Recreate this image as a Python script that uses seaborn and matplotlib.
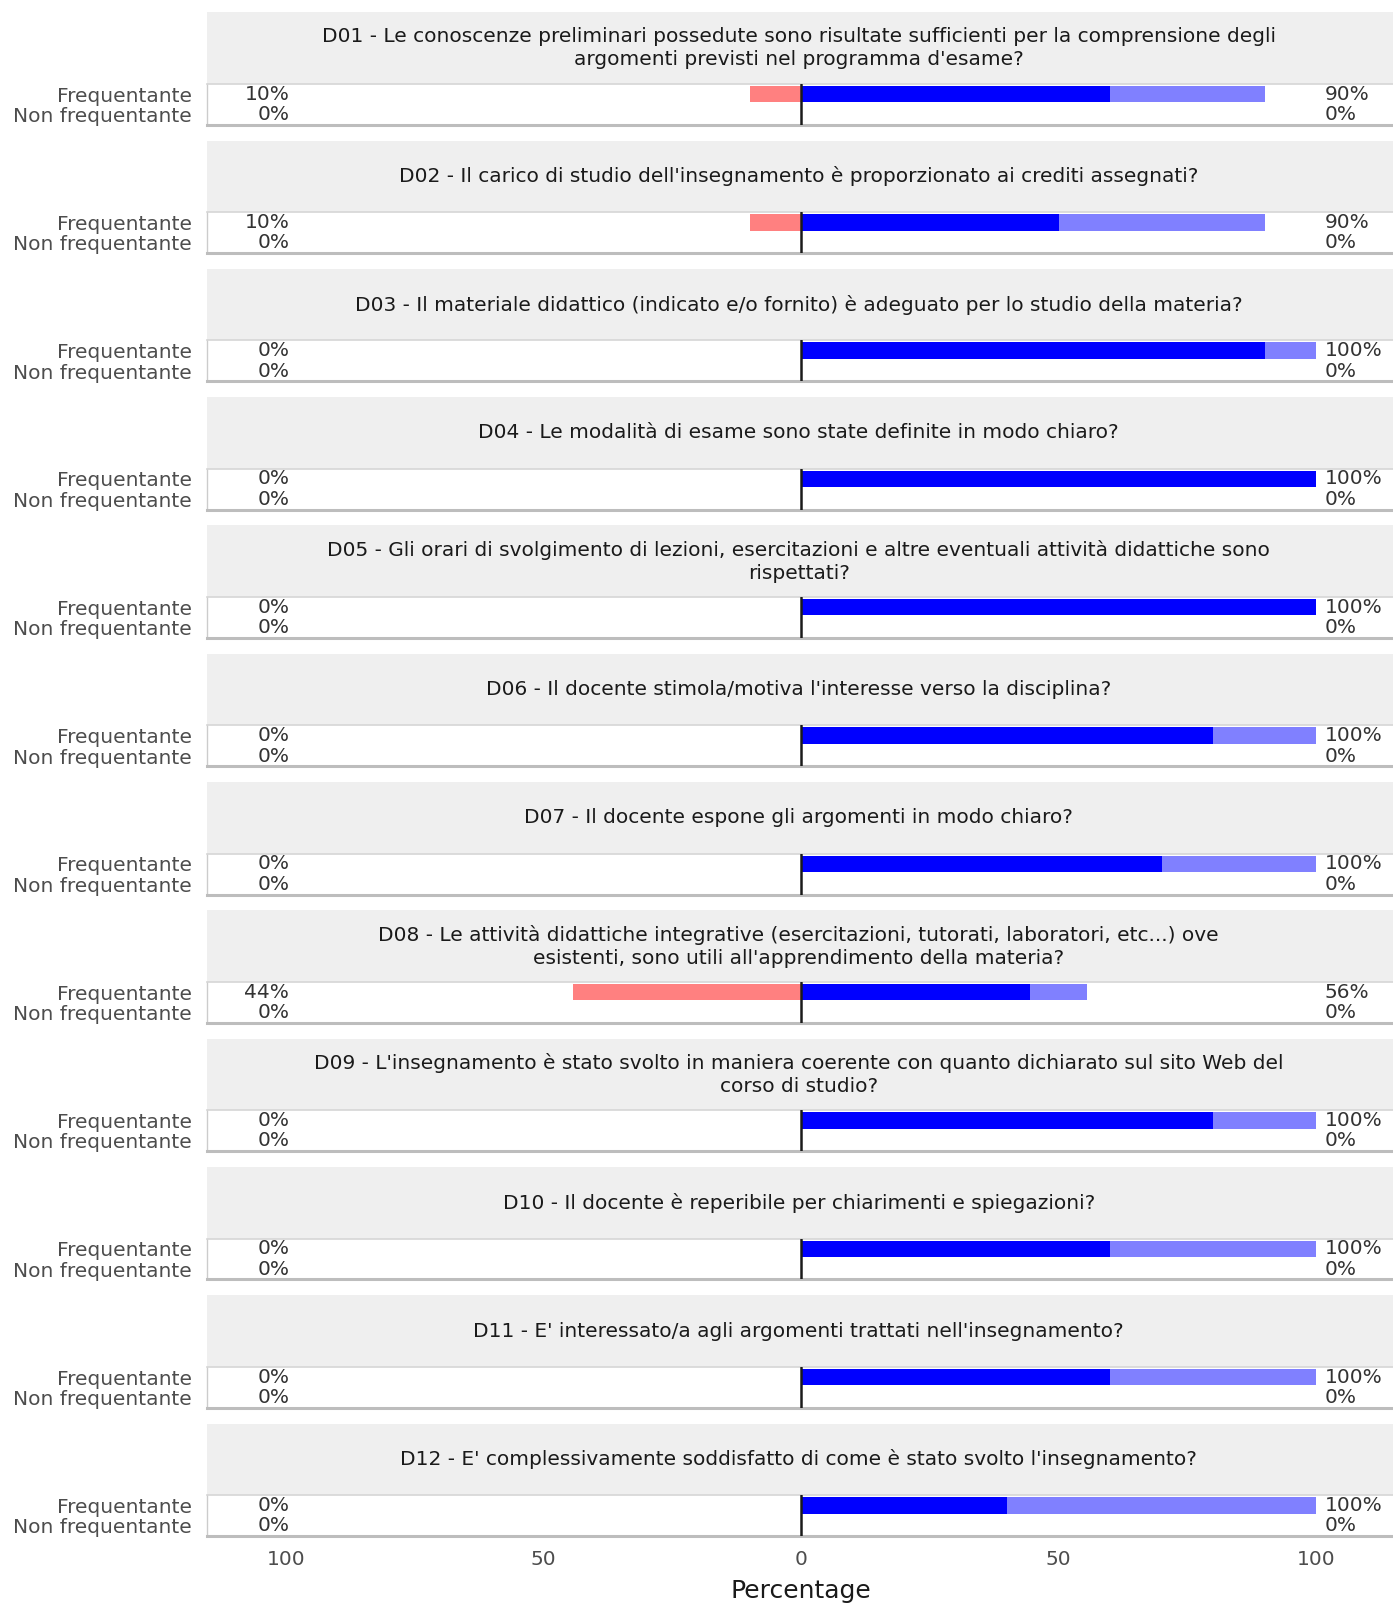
import numpy as np
import pandas as pd
import seaborn as sns
from matplotlib import pyplot as plt

# questions (strip titles)
questions = [
    "D01 - Le conoscenze preliminari possedute sono risultate sufficienti per la comprensione degli\nargomenti previsti nel programma d'esame?",
    "D02 - Il carico di studio dell'insegnamento è proporzionato ai crediti assegnati?",
    "D03 - Il materiale didattico (indicato e/o fornito) è adeguato per lo studio della materia?",
    "D04 - Le modalità di esame sono state definite in modo chiaro?",
    "D05 - Gli orari di svolgimento di lezioni, esercitazioni e altre eventuali attività didattiche sono\nrispettati?",
    "D06 - Il docente stimola/motiva l'interesse verso la disciplina?",
    "D07 - Il docente espone gli argomenti in modo chiaro?",
    "D08 - Le attività didattiche integrative (esercitazioni, tutorati, laboratori, etc...) ove\nesistenti, sono utili all'apprendimento della materia?",
    "D09 - L'insegnamento è stato svolto in maniera coerente con quanto dichiarato sul sito Web del\ncorso di studio?",
    "D10 - Il docente è reperibile per chiarimenti e spiegazioni?",
    "D11 - E' interessato/a agli argomenti trattati nell'insegnamento?",
    "D12 - E' complessivamente soddisfatto di come è stato svolto l'insegnamento?",
]
groups = ["Frequentante", "Non frequentante"]

# Frequentante percentages (Non frequentante is all 0)
neg_freq = [10, 10, 0, 0, 0, 0, 0, 44.4, 0, 0, 0, 0]
dark_freq = [60, 50, 90, 100, 100, 80, 70, 44.4, 80, 60, 60, 40]
light_freq = [30, 40, 10, 0, 0, 20, 30, 11.1, 20, 40, 40, 60]

sns.set_style("white")
plt.rcParams['font.family'] = ['DejaVu Sans']

W, H = 1363.0, 1568.0  # coordinates
fig = plt.figure(figsize=(13.93, 16.03), dpi=100)

left = 203 / W
width = 1 - left
stride = 125.5
strip_h = 70
plot_h = 40
fs = 14.5

for i, q in enumerate(questions):
    top = 12 + i * stride
    # strip
    sax = fig.add_axes([left, 1 - (top + strip_h) / H, width, strip_h / H])
    sax.set_facecolor('#EFEFEF')
    for s in sax.spines.values():
        s.set_visible(False)
    sax.set_xticks([])
    sax.set_yticks([])
    sax.text(0.4987, 0.5, q, ha='center', va='center', fontsize=fs,
             color='#1A1A1A', linespacing=1.25, transform=sax.transAxes)

    # bars
    ax = fig.add_axes([left, 1 - (top + strip_h + plot_h) / H, width, plot_h / H])
    df = pd.DataFrame({
        'group': groups,
        'total': [dark_freq[i] + light_freq[i], 0],
        'dark': [dark_freq[i], 0],
        'neg': [-neg_freq[i], 0],
    })
    sns.barplot(data=df, x='total', y='group', order=groups, color='#8080FF',
                saturation=1, width=0.8, linewidth=0, orient='h', ax=ax)
    sns.barplot(data=df, x='dark', y='group', order=groups, color='#0000FF',
                saturation=1, width=0.8, linewidth=0, orient='h', ax=ax)
    sns.barplot(data=df, x='neg', y='group', order=groups, color='#FF8080',
                saturation=1, width=0.8, linewidth=0, orient='h', ax=ax)
    ax.axvline(0, color='#1A1A1A', lw=1.8, zorder=5)
    ax.set_xlim(-115.3, 114.9)
    ax.set_ylim(1.5, -0.5)
    ax.set_xlabel('')
    ax.set_ylabel('')
    ax.set_yticks([0, 1])
    ax.set_yticklabels(groups, color='#4D4D4D', fontsize=fs)
    ax.tick_params(axis='y', length=0, pad=11)

    # percent labels
    left_lab = [neg_freq[i], 0]
    right_lab = [dark_freq[i] + light_freq[i], 0]
    for r in range(2):
        ax.text(-99.4, r, f"{round(left_lab[r])}%", ha='right', va='center',
                fontsize=fs, color='#333333')
        ax.text(101.6, r, f"{round(right_lab[r])}%", ha='left', va='center',
                fontsize=fs, color='#333333')

    ax.spines['right'].set_visible(False)
    ax.spines['top'].set_color('#D6D6D6')
    ax.spines['top'].set_linewidth(1.2)
    ax.spines['left'].set_color('#CCCCCC')
    ax.spines['left'].set_linewidth(1.0)
    ax.spines['bottom'].set_color('#BDBDBD')
    ax.spines['bottom'].set_linewidth(2.2)

    ax.set_xticks([-100, -50, 0, 50, 100])
    if i == len(questions) - 1:
        ax.set_xticklabels(['100', '50', '0', '50', '100'], color='#4D4D4D', fontsize=fs)
        ax.tick_params(axis='x', length=0, pad=10)
    else:
        ax.set_xticklabels([])
        ax.tick_params(axis='x', length=0)

fig.text(784 / W, 1 - 1556 / H, 'Percentage', ha='center', va='center',
         fontsize=18, color='#1A1A1A')

plt.savefig('out.png', dpi=100)
